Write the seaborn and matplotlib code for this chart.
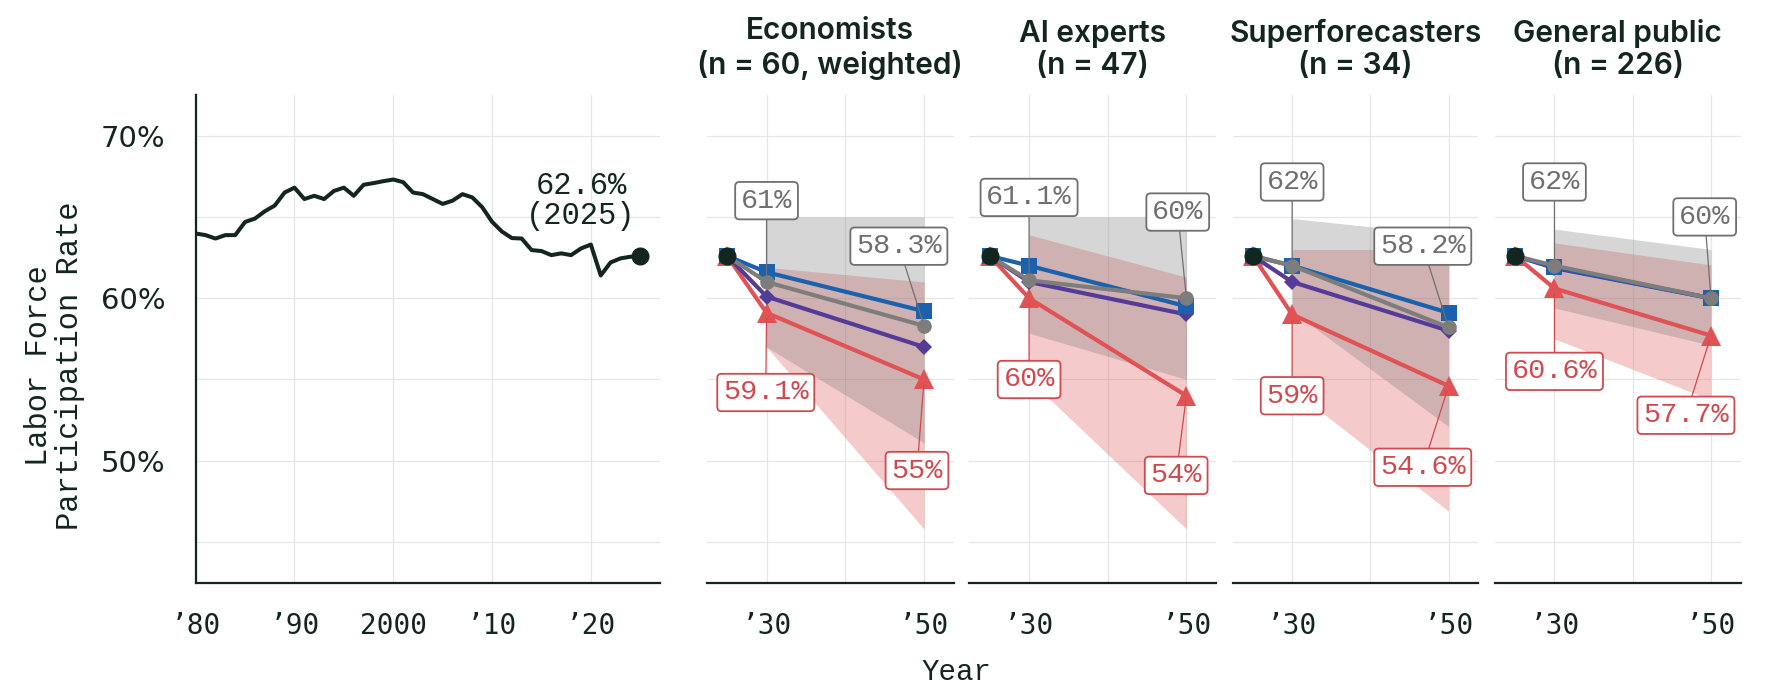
import matplotlib
matplotlib.use("Agg")
import numpy as np
import pandas as pd
import seaborn as sns
import matplotlib.pyplot as plt

# historical labor force participation rate (annual, %)
hist_years = list(range(1980, 2026))
hist_lfpr = [63.98, 63.88, 63.67, 63.88, 63.88, 64.69, 64.9, 65.35, 65.7, 66.5,
             66.8, 66.1, 66.3, 66.1, 66.6, 66.8, 66.3, 66.98, 67.08, 67.2,
             67.3, 67.14, 66.5, 66.4, 66.1, 65.8, 66.0, 66.4, 66.2, 65.6,
             64.7, 64.1, 63.7, 63.67, 62.96, 62.9, 62.65, 62.76, 62.65, 63.06,
             63.3, 61.4, 62.2, 62.45, 62.55, 62.6]

# forecast groups
groups = ["Economists\n(n = 60, weighted)", "AI experts\n(n = 47)",
          "Superforecasters\n(n = 34)", "General public\n(n = 226)"]
forecast_years = [2030, 2050]
blue_vals = [[61.6, 59.2], [62.0, 59.5], [62.0, 59.1], [61.9, 60.0]]
gray_vals = [[61.0, 58.3], [61.1, 60.0], [62.0, 58.2], [62.0, 60.0]]
purple_vals = [[60.1, 57.0], [61.0, 59.0], [61.0, 58.0], [61.85, 60.0]]
red_vals = [[59.1, 55.0], [60.0, 54.0], [59.0, 54.6], [60.6, 57.7]]
gray_lo = [[57.0, 51.1], [57.85, 55.0], [59.2, 52.1], [59.4, 57.1]]
gray_hi = [[65.0, 65.0], [65.0, 65.0], [64.9, 63.9], [64.25, 63.0]]
red_lo = [[57.0, 45.8], [55.0, 45.8], [54.4, 46.9], [57.5, 53.75]]
red_hi = [[61.9, 61.0], [63.9, 61.3], [63.0, 63.0], [63.4, 62.05]]

# label placement (x, y) for gray-2030, gray-2050, red-2030, red-2050
label_pos = [
    [(2030, 66.0), (2046.8, 63.2), (2029.9, 54.2), (2049.1, 49.4)],
    [(2030, 66.2), (2048.9, 65.3), (2030, 55.0), (2048.7, 49.1)],
    [(2030, 67.15), (2046.7, 63.2), (2030, 54.0), (2046.7, 49.6)],
    [(2030, 67.15), (2049.2, 65.0), (2030, 55.5), (2046.8, 52.8)],
]

INK = "#12261f"
BLUE = "#1a62ad"
GRAY = "#7d7d7d"
PURPLE = "#553b98"
RED = "#e05254"
GRAY_TXT = "#6f6f6f"
RED_TXT = "#cf4a4f"
GRID = "#e6e6e6"

sns.set_theme(style="white")
plt.rcParams["font.family"] = ["DejaVu Sans"]

fig = plt.figure(figsize=(17.67, 6.87), dpi=100)
W, H = 1767, 687
bottom = 1 - 582.7 / H
height = (582.7 - 95) / H
ylim = (42.5, 72.5)


def style_common(ax):
    ax.set_ylim(*ylim)
    ax.set_yticks([50, 60, 70])
    ax.set_yticks([45, 55, 65], minor=True)
    ax.grid(True, which="both", color=GRID, lw=0.9)
    ax.set_axisbelow(True)
    for s in ["top", "right"]:
        ax.spines[s].set_visible(False)
    ax.spines["bottom"].set_color(INK)
    ax.spines["bottom"].set_linewidth(1.6)
    ax.tick_params(axis="x", which="major", length=7, width=1.4, color=INK,
                   pad=14, labelsize=20, labelcolor=INK)
    ax.tick_params(axis="both", which="minor", length=0)
    for lab in ax.get_xticklabels():
        lab.set_family("DejaVu Sans Mono")
    ax.set_xlabel("")
    ax.set_ylabel("")


# ---- historical panel
ax0 = fig.add_axes([195.7 / W, bottom, (660 - 195.7) / W, height])
sns.lineplot(x=hist_years, y=hist_lfpr, color=INK, lw=2.9, ax=ax0)
ax0.plot(hist_years[-1], hist_lfpr[-1], "o", color=INK, ms=12, zorder=5)
ax0.set_xlim(1980, 2027)
ax0.set_xticks([1980, 1990, 2000, 2010, 2020])
ax0.set_xticklabels(["\u201980", "\u201990", "2000", "\u201910", "\u201920"])
style_common(ax0)
ax0.set_yticklabels(["50%", "60%", "70%"])
ax0.spines["left"].set_color(INK)
ax0.spines["left"].set_linewidth(1.6)
ax0.tick_params(axis="y", which="major", length=7, width=1.4, color=INK,
                pad=15, labelsize=21, labelcolor=INK)
ax0.set_ylabel("Labor Force\nParticipation Rate", family="Liberation Mono",
               fontsize=22, color=INK, linespacing=1.05)
ax0.yaxis.set_label_coords(-0.238, 0.445)
ax0.text(2019.0, 65.95, f"{hist_lfpr[-1]:.1f}%\n({hist_years[-1]})",
         family="Liberation Mono", fontsize=22, color=INK, ha="center",
         va="center", linespacing=1.0)

# ---- forecast panels
panel_x = [706.7, 969.3, 1232.7, 1495.0]
panel_w = [247.3, 247.0, 245.6, 245.7]

series = [
    ("purple", purple_vals, PURPLE, "D", 8.5),
    ("blue", blue_vals, BLUE, "s", 11.5),
    ("gray", gray_vals, GRAY, "o", 10.5),
]

for i, title in enumerate(groups):
    ax = fig.add_axes([panel_x[i] / W, bottom, panel_w[i] / W, height])
    ax.fill_between(forecast_years, red_lo[i], red_hi[i], color=RED,
                    alpha=0.3, lw=0)
    ax.fill_between(forecast_years, gray_lo[i], gray_hi[i], color="#7a7a7a",
                    alpha=0.3, lw=0)

    x_line = [hist_years[-1]] + forecast_years
    sns.lineplot(x=x_line, y=[hist_lfpr[-1]] + red_vals[i], color=RED, lw=3,
                 marker="^", markersize=15, markeredgecolor=RED,
                 markeredgewidth=0, ax=ax, zorder=3)
    for name, vals, col, mk, ms in series:
        sns.lineplot(x=x_line, y=[hist_lfpr[-1]] + vals[i], color=col, lw=3,
                     marker=mk, markersize=ms, markeredgecolor=col,
                     markeredgewidth=0, ax=ax, zorder=4)
    ax.plot(hist_years[-1], hist_lfpr[-1], "o", color=INK, ms=12, zorder=6)

    ax.set_xlim(2022.4, 2053.8)
    ax.set_xticks(forecast_years)
    ax.set_xticks([2040], minor=True)
    ax.set_xticklabels(["\u201930", "\u201950"])
    style_common(ax)
    ax.spines["left"].set_visible(False)
    ax.tick_params(axis="y", which="both", length=0, labelleft=False)
    ax.set_title(title, family="Inter", fontsize=21.5, fontweight="semibold",
                 color=INK, pad=15, linespacing=1.2)

    pts = [(2030, gray_vals[i][0], GRAY_TXT), (2050, gray_vals[i][1], GRAY_TXT),
           (2030, red_vals[i][0], RED_TXT), (2050, red_vals[i][1], RED_TXT)]
    for (px, py, col), (lx, ly) in zip(pts, label_pos[i]):
        ax.annotate(f"{py:g}%", xy=(px, py), xytext=(lx, ly),
                    ha="center", va="center", family="Liberation Mono",
                    fontsize=20.5, color=col, zorder=8,
                    bbox=dict(boxstyle="round,pad=0.2,rounding_size=0.15",
                              fc="white", ec=col, lw=1.3),
                    arrowprops=dict(arrowstyle="-", color=col, lw=0.9,
                                    shrinkA=0, shrinkB=4))

fig.text(956 / W, 1 - 672 / H, "Year", ha="center", va="center",
         family="Liberation Mono", fontsize=21, color=INK)

fig.savefig("out.png", dpi=100)
